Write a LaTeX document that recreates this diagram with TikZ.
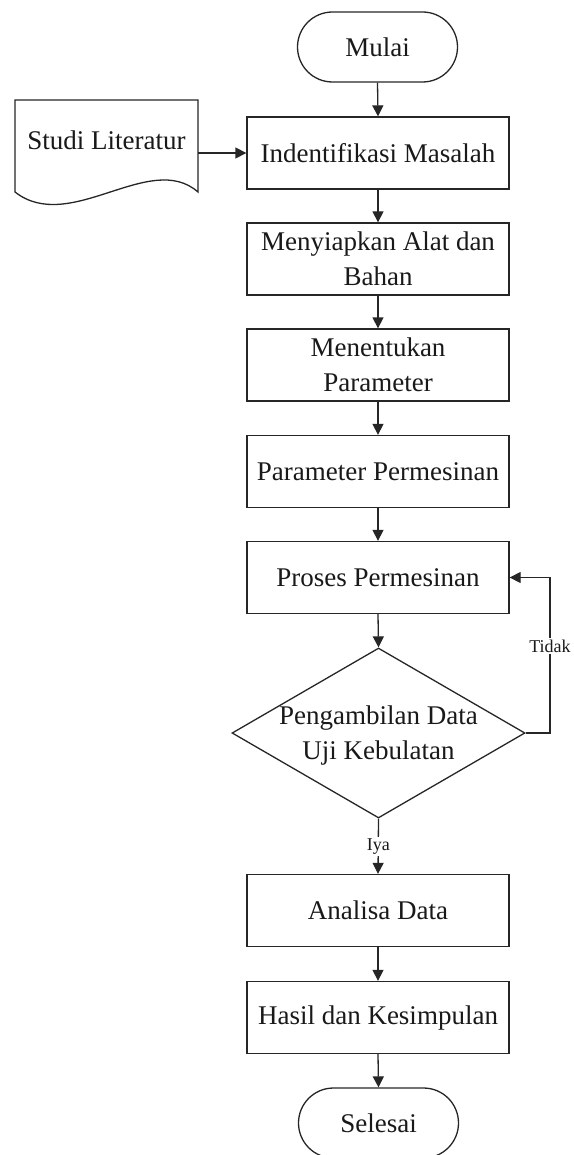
\documentclass[tikz,border=0pt]{standalone}
\usepackage{fontspec}
\setmainfont{Liberation Serif}
\usetikzlibrary{shapes.geometric,shapes.misc,arrows.meta}
\begin{document}
\begin{tikzpicture}[x=1pt,y=1pt,
  lw/.style={line width=1.3pt, draw=black!85},
  bigtext/.style={font=\fontsize{27}{35}\selectfont, text=black!90},
  smalltext/.style={font=\fontsize{18}{22}\selectfont, text=black!90},
  procbox/.style={lw, bigtext, rectangle, minimum width=262pt, minimum height=72pt, align=center, inner sep=2pt},
  termbox/.style={lw, bigtext, rounded rectangle, minimum width=164pt, minimum height=70pt, inner sep=2pt},
  decbox/.style={lw, diamond, minimum width=293pt, minimum height=170pt, inner sep=0pt},
  arr/.style={lw, -{Triangle[length=11pt,width=11pt]}},
  lbl/.style={smalltext, fill=white, inner sep=1.5pt}
]
\useasboundingbox (0,0) rectangle (573,-1155);
\clip (0,0) rectangle (573,-1155);

% document shape
\draw[lw, fill=white] (15,-100) -- (198,-100) -- (198,-192)
  .. controls (150,-150) and (70,-235) .. (15,-192) -- cycle;
\node[bigtext] (stud) at (106.5,-140) {Studi Literatur};
\coordinate (studR) at (198,-153);

\node[termbox] (mulai) at (377.5,-47) {Mulai};
\node[procbox] (ident) at (378,-153) {Indentifikasi Masalah};
\node[procbox] (siap) at (378,-259) {Menyiapkan Alat dan\\Bahan};
\node[procbox] (tentu) at (378,-365) {Menentukan\\Parameter};
\node[procbox] (param) at (378,-471.5) {Parameter Permesinan};
\node[procbox] (proses) at (378,-577.5) {Proses Permesinan};
\node[decbox] (dec) at (378.5,-733) {};
\node[bigtext, align=center] (dect) at (378.5,-735) {Pengambilan Data\\Uji Kebulatan};
\node[procbox] (analisa) at (378,-910.5) {Analisa Data};
\node[procbox] (hasil) at (378,-1017.5) {Hasil dan Kesimpulan};
\node[termbox] (selesai) at (378.5,-1123) {Selesai};

\coordinate (fb) at (550,-733);

\draw[arr] (studR) -- (ident.west);
\draw[arr] (mulai.south) -- (ident.north);
\draw[arr] (ident.south) -- (siap.north);
\draw[arr] (siap.south) -- (tentu.north);
\draw[arr] (tentu.south) -- (param.north);
\draw[arr] (param.south) -- (proses.north);
\draw[arr] (proses.south) -- (dec.north);
\draw[arr] (dec.east) -- (fb) |- node[lbl, pos=0.28] (tidak) {Tidak} (proses.east);
\draw[arr] (dec.south) -- node[lbl, midway] (iya) {Iya} (analisa.north);
\draw[arr] (analisa.south) -- (hasil.north);
\draw[arr] (hasil.south) -- (selesai.north);
\end{tikzpicture}
\end{document}
